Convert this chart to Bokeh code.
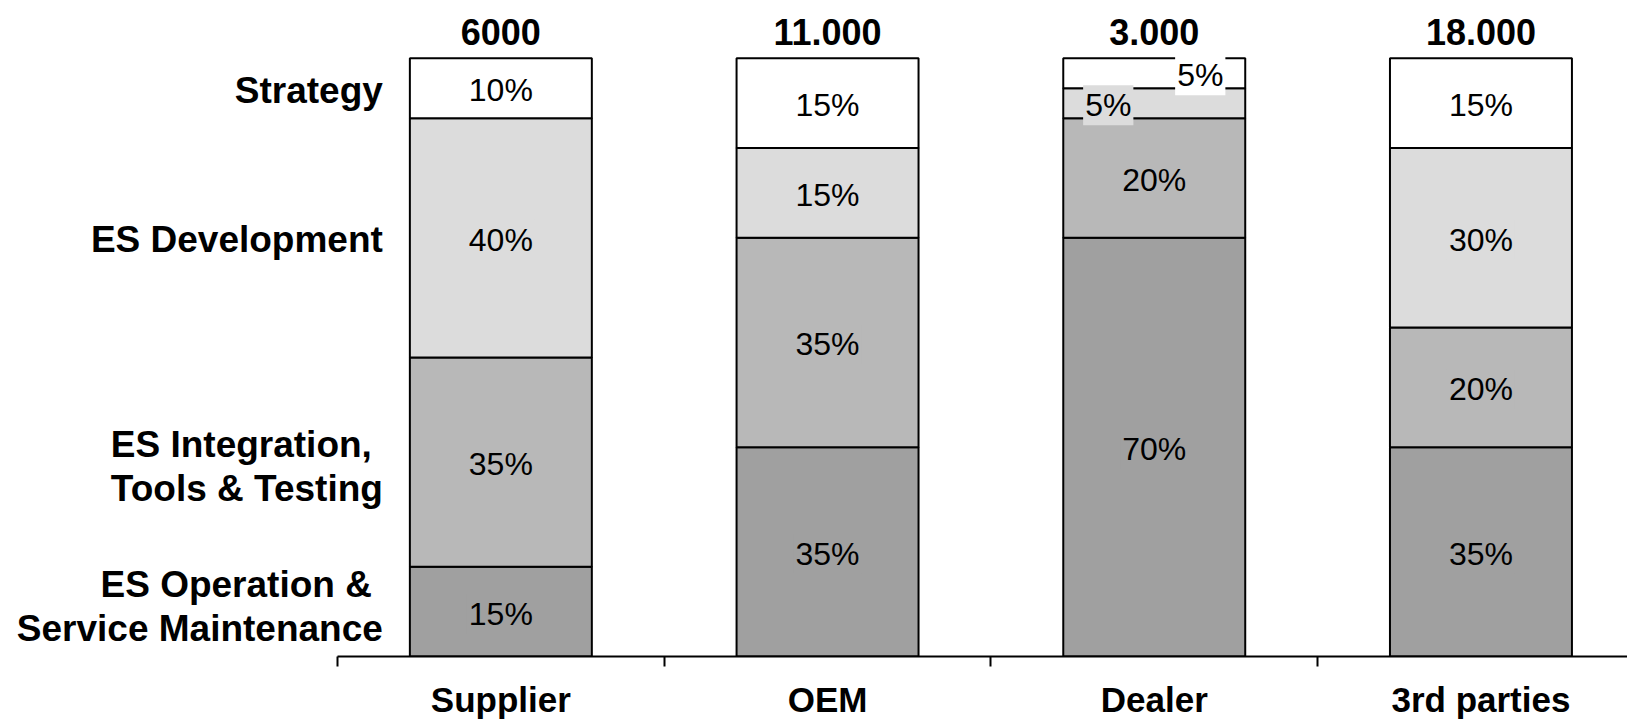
from bokeh.plotting import figure
from bokeh.models import ColumnDataSource, Range1d, FixedTicker, LinearAxis
from bokeh.core.properties import value
from bokeh.embed import file_html
from bokeh.resources import INLINE

# ---- data -------------------------------------------------------------
categories = ["Supplier", "OEM", "Dealer", "3rd parties"]
totals = ["6000", "11.000", "3.000", "18.000"]

# shares in percent, stacked bottom -> top
operation = [15, 35, 70, 35]
integration = [35, 35, 20, 20]
development = [40, 15, 5, 30]
strategy = [10, 15, 5, 15]

segment_names = ["ES Operation & Service Maintenance",
                 "ES Integration, Tools & Testing",
                 "ES Development",
                 "Strategy"]
# how each segment name is broken onto lines at the left side
segment_lines = [["ES Operation & ", "Service Maintenance"],
                 ["ES Integration, ", "Tools & Testing"],
                 ["ES Development"],
                 ["Strategy"]]

# ---- style ------------------------------------------------------------
FONT = value("Liberation Sans")
colors = ["#a0a0a0", "#b8b8b8", "#dcdcdc", "#ffffff"]
W, H = 1627, 721
AXIS_H = 63            # room below the frame for the category axis
SLOT_PX = 326.7        # width of one category slot
AXIS_START_PX = 337    # where the category axis begins
PX_PER_PCT = 6.0
BAR_W = 0.557
PCT_DROP = 2           # px, optical centring of middle-baseline text
ROW_DROP = 2
row_nudge = {0: -7, 1: 2}   # fine placement of the two-line row names
# sideways nudges for labels of very thin segments (px)
label_shift = {("Dealer", 3): 46, ("Dealer", 2): -46}

x_range = Range1d(-AXIS_START_PX / SLOT_PX, (W - AXIS_START_PX) / SLOT_PX)
y_range = Range1d(0, (H - AXIS_H) / PX_PER_PCT)

p = figure(width=W, height=H, x_range=x_range, y_range=y_range,
           output_backend="svg", toolbar_location=None,
           x_axis_location=None, y_axis_location=None,
           min_border=0, min_border_bottom=AXIS_H)
p.outline_line_color = None
p.background_fill_color = "white"
p.border_fill_color = "white"
p.xgrid.visible = False
p.ygrid.visible = False

xs = [i + 0.5 for i in range(len(categories))]
series = [operation, integration, development, strategy]
stack_keys = ["operation", "integration", "development", "strategy"]

src = ColumnDataSource(dict(x=xs, cat=categories,
                            **{k: v for k, v in zip(stack_keys, series)}))
p.vbar_stack(stack_keys, x="x", width=BAR_W, source=src,
             fill_color=colors, line_color="black", line_width=2)

# ---- percentage labels inside the segments ----------------------------
lx, ly, ltxt, lbg, lxo = [], [], [], [], []
for i, cat in enumerate(categories):
    base = 0
    for s, vals in enumerate(series):
        v = vals[i]
        lx.append(xs[i])
        ly.append(base + v / 2)
        ltxt.append(f"{v}%")
        lbg.append(colors[s])
        lxo.append(label_shift.get((cat, s), 0))
        base += v
lab = ColumnDataSource(dict(x=lx, y=ly, text=ltxt, bg=lbg, xo=lxo))
p.text(x="x", y="y", text="text", x_offset="xo", y_offset=PCT_DROP,
       source=lab, text_font=FONT, text_font_size="32px", text_color="black",
       text_align="center", text_baseline="middle",
       background_fill_color="bg", padding=2)

# ---- totals above each bar --------------------------------------------
tot_y = [sum(vals[i] for vals in series) for i in range(len(categories))]
tsrc = ColumnDataSource(dict(x=xs, y=tot_y, text=totals))
p.text(x="x", y="y", text="text", source=tsrc, y_offset=-26,
       text_font=FONT, text_font_style="bold", text_font_size="36px",
       text_color="black", text_align="center", text_baseline="middle")

# ---- segment names left of the first bar -------------------------------
rx, ry, rtxt, ryo, rxo = [], [], [], [], []
base = 0
first_left = xs[0] - BAR_W / 2
for s, vals in enumerate(series):
    v = vals[0]
    centre = base + v / 2
    lines = segment_lines[s]
    n = len(lines)
    for k, line in enumerate(lines):
        rx.append(first_left)
        ry.append(centre)
        rtxt.append(line.rstrip())
        ryo.append((k - (n - 1) / 2) * 44 + ROW_DROP + row_nudge.get(s, 0))
        rxo.append(-27 - (11 if line.endswith(" ") else 0))
    base += v
rsrc = ColumnDataSource(dict(x=rx, y=ry, text=rtxt, yo=ryo, xo=rxo))
p.text(x="x", y="y", text="text", x_offset="xo", y_offset="yo", source=rsrc,
       text_font=FONT, text_font_style="bold", text_font_size="37px",
       text_color="black", text_align="right", text_baseline="middle")

# ---- category axis: labels at bar centres, ticks between slots --------
axis = LinearAxis(
    ticker=FixedTicker(ticks=xs, minor_ticks=list(range(len(categories)))),
    major_label_overrides={x: c for x, c in zip(xs, categories)},
    bounds=(0, x_range.end),
)
axis.axis_line_color = "black"
axis.axis_line_width = 2
axis.major_tick_line_color = None
axis.major_tick_out = 0
axis.major_tick_in = 0
axis.minor_tick_line_color = "black"
axis.minor_tick_line_width = 2
axis.minor_tick_out = 10
axis.minor_tick_in = 0
axis.major_label_standoff = 13
axis.major_label_text_font = "Liberation Sans"
axis.major_label_text_font_style = "bold"
axis.major_label_text_font_size = "35px"
axis.major_label_text_color = "black"
p.add_layout(axis, "below")

open("out.html", "w").write(file_html(p, INLINE))
